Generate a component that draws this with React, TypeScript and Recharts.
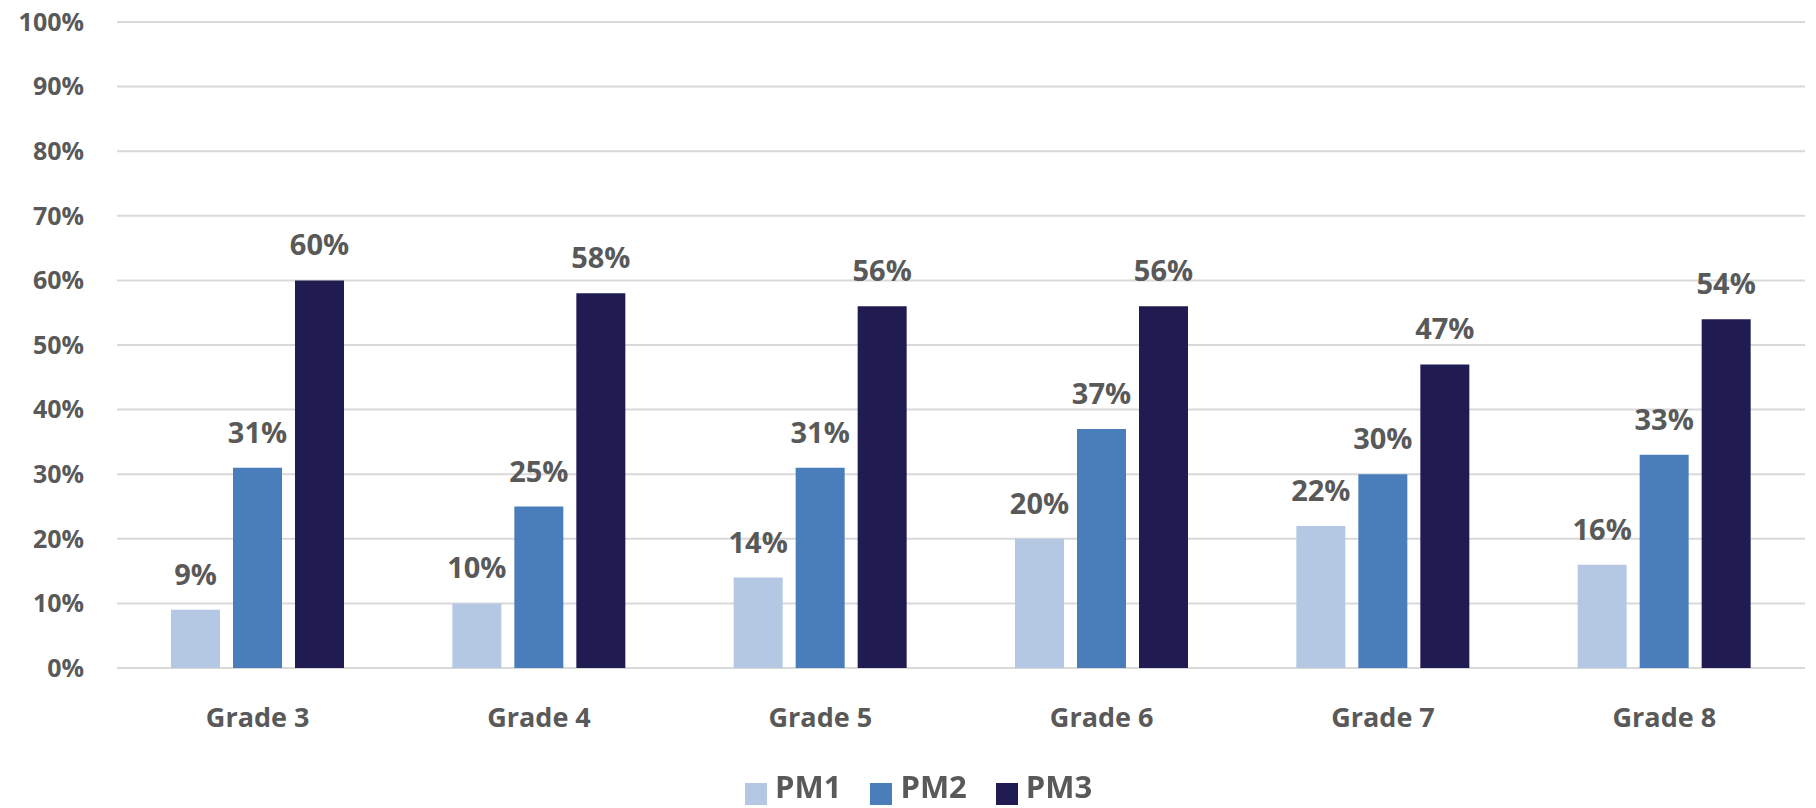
import {
  BarChart,
  Bar,
  XAxis,
  YAxis,
  CartesianGrid,
  Legend,
  LabelList,
} from "recharts";

const grades = ["Grade 3", "Grade 4", "Grade 5", "Grade 6", "Grade 7", "Grade 8"];
const pm1 = [9, 10, 14, 20, 22, 16];
const pm2 = [31, 25, 31, 37, 30, 33];
const pm3 = [60, 58, 56, 56, 47, 54];
const yTicks = [0, 10, 20, 30, 40, 50, 60, 70, 80, 90, 100];

const seriesList = [
  { key: "PM1", color: "#b4c8e4" },
  { key: "PM2", color: "#4a7ebb" },
  { key: "PM3", color: "#201c52" },
];

const data = grades.map((g, i) => ({
  grade: g,
  PM1: pm1[i],
  PM2: pm2[i],
  PM3: pm3[i],
}));

const textColor = "#595959";

export default function App() {
  return (
    <div style={{ position: "fixed", left: 0, top: 0, background: "#fff" }}>
      <BarChart
        width={1816}
        height={808}
        data={data}
        margin={{ top: 22, right: 11, left: 0, bottom: 46 }}
        barGap={13}
        barSize={49}
        style={{ fontFamily: "'Open Sans', sans-serif" }}
      >
        <CartesianGrid vertical={false} stroke="#d9d9d9" strokeWidth={2} />
        <XAxis
          dataKey="grade"
          axisLine={false}
          tickLine={false}
          tickSize={0}
          tickMargin={40}
          height={60}
          tick={{ fill: textColor, fontSize: 27, fontWeight: 700 }}
        />
        <YAxis
          width={117}
          domain={[0, 100]}
          ticks={yTicks}
          axisLine={false}
          tickLine={false}
          tickSize={0}
          tickMargin={33}
          tickFormatter={(v) => `${v}%`}
          tick={{ fill: textColor, fontSize: 25, fontWeight: 700 }}
        />
        <Legend
          verticalAlign="bottom"
          align="left"
          iconType="square"
          iconSize={22}
          wrapperStyle={{ left: 745, bottom: 5, width: 420, height: 34, lineHeight: "34px" }}
          formatter={(value) => (
            <span
              style={{
                color: textColor,
                fontSize: 31,
                fontWeight: 700,
                marginLeft: 4,
                marginRight: 19,
              }}
            >
              {value}
            </span>
          )}
        />
        {seriesList.map((s) => (
          <Bar key={s.key} dataKey={s.key} fill={s.color} isAnimationActive={false}>
            <LabelList
              dataKey={s.key}
              position="top"
              offset={25}
              formatter={(v: any) => `${v}%`}
              style={{ fill: textColor, fontSize: 29, fontWeight: 700 }}
            />
          </Bar>
        ))}
      </BarChart>
    </div>
  );
}
